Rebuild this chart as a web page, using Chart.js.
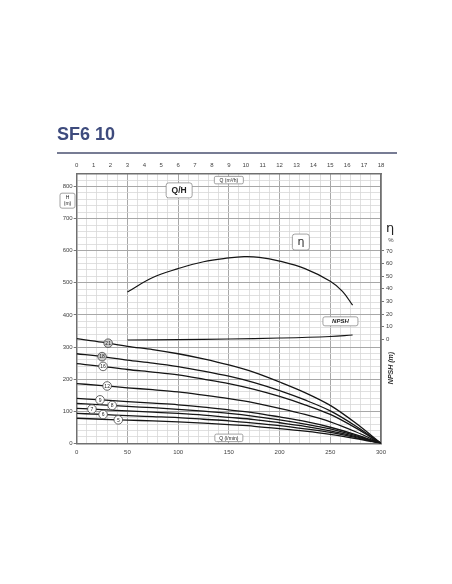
<!DOCTYPE html>
<html>
<head>
<meta charset="utf-8">
<script src="https://cdn.jsdelivr.net/npm/chart.js@4.4.1/dist/chart.umd.min.js"></script>
<style>
  html, body { margin: 0; padding: 0; background: #fff; }
  canvas { display: block; }
</style>
</head>
<body>
<canvas id="myChart" width="452" height="584"></canvas>
<script>
// flow points (l/min) for the head curves
const qHead = [0, 25, 50, 75, 100, 125, 150, 175, 200, 225, 250, 275, 300];
// head (m) per pump model
const h21 = [326, 315, 302, 292, 279, 263, 244, 221, 191, 158, 118, 63, 0];
const h18 = [279, 270, 259, 250, 239, 225, 209, 189, 164, 135, 101, 54, 0];
const h16 = [248, 240, 230, 222, 213, 200, 186, 168, 146, 120, 90, 48, 0];
const h12 = [186, 180, 173, 167, 160, 150, 139, 126, 109, 90, 67, 36, 0];
const h9 = [140, 135, 130, 125, 120, 113, 104, 95, 82, 68, 50, 27, 0];
const h8 = [124, 120, 115, 111, 106, 100, 93, 84, 73, 60, 45, 24, 0];
const h7 = [109, 105, 101, 97, 93, 88, 81, 74, 64, 53, 39, 21, 0];
const h6 = [93, 90, 86, 83, 80, 75, 70, 63, 55, 45, 34, 18, 0];
const h5 = [78, 75, 72, 70, 67, 63, 58, 53, 46, 38, 28, 15, 0];
const stageNames = ['21', '18', '16', '12', '9', '8', '7', '6', '5'];
const stageLabelQ = [31, 25, 26, 30, 23, 35, 15, 26, 41];

// efficiency curve
const qEta = [50, 75, 100, 125, 150, 165, 180, 200, 225, 250, 262, 272];
const eta = [37.5, 49, 56, 61.5, 64.5, 65.5, 65, 62, 56, 46, 38, 27];

// NPSH curve
const qNpsh = [50, 100, 150, 200, 250, 272];
const npsh = [1.7, 1.9, 2.2, 2.7, 3.5, 4.2];

const headSeries = [h21, h18, h16, h12, h9, h8, h7, h6, h5];

const tickFont = { family: 'Liberation Sans', size: 6 };
const tickColor = '#444';
const textColor = '#222';

function toPoints(xs, ys) {
    let pts = [];
    for (var i = 0; i < xs.length; i++) {
        pts.push({ x: xs[i], y: ys[i] });
    }
    return pts;
}

let datasets = [];
for (var i = 0; i < headSeries.length; i++) {
    datasets.push({
        label: stageNames[i],
        data: toPoints(qHead, headSeries[i]),
        borderColor: '#151515',
        borderWidth: 1.3,
        pointRadius: 0,
        fill: false,
        cubicInterpolationMode: 'monotone',
        xAxisID: 'x',
        yAxisID: 'y'
    });
}
datasets.push({
    label: 'η',
    data: toPoints(qEta, eta),
    borderColor: '#151515',
    borderWidth: 1.2,
    pointRadius: 0,
    fill: false,
    tension: 0.4,
    xAxisID: 'x',
    yAxisID: 'yEta'
});
datasets.push({
    label: 'NPSH',
    data: toPoints(qNpsh, npsh),
    borderColor: '#151515',
    borderWidth: 1.1,
    pointRadius: 0,
    fill: false,
    tension: 0.4,
    xAxisID: 'x',
    yAxisID: 'yNpsh'
});

// white rounded label box; leaves fillStyle ready for the text
function roundBox(ctx, cx, cy, w, h, r) {
    const x = cx - w / 2, y = cy - h / 2;
    ctx.beginPath();
    ctx.roundRect(x, y, w, h, r);
    ctx.fillStyle = '#fff';
    ctx.fill();
    ctx.lineWidth = 0.8;
    ctx.strokeStyle = '#8c8c8c';
    ctx.stroke();
    ctx.fillStyle = textColor;
}

function headAt(series, q) {
    for (var i = 0; i < qHead.length - 1; i++) {
        if (q >= qHead[i] && q <= qHead[i + 1]) {
            const t = (q - qHead[i]) / (qHead[i + 1] - qHead[i]);
            return series[i] + t * (series[i + 1] - series[i]);
        }
    }
    return series[series.length - 1];
}

const decorations = {
    id: 'decorations',
    afterDraw(chart) {
        const ctx = chart.ctx;
        const sx = chart.scales.x, sy = chart.scales.y;
        ctx.save();

        // title + rule
        ctx.fillStyle = '#3e4b7d';
        ctx.font = 'bold 18px "Liberation Sans"';
        ctx.textAlign = 'left';
        ctx.textBaseline = 'alphabetic';
        ctx.fillText('SF6 10', 57, 140);
        ctx.beginPath();
        ctx.moveTo(57, 153);
        ctx.lineTo(397, 153);
        ctx.lineWidth = 1.3;
        ctx.strokeStyle = '#4a5070';
        ctx.stroke();

        ctx.textAlign = 'center';
        ctx.textBaseline = 'middle';

        // Q/H box
        let bx = sx.getPixelForValue(101), by = sy.getPixelForValue(788);
        roundBox(ctx, bx, by, 26, 15, 2.5);
        ctx.font = 'bold 8.5px "Liberation Sans"';
        ctx.fillText('Q/H', bx, by + 0.5);

        // eta box
        bx = sx.getPixelForValue(221); by = sy.getPixelForValue(627);
        roundBox(ctx, bx, by, 17, 16, 2.5);
        ctx.font = '11px "DejaVu Sans"';
        ctx.fillText('η', bx, by);

        // NPSH box
        bx = sx.getPixelForValue(260); by = sy.getPixelForValue(380);
        roundBox(ctx, bx, by, 35, 9, 2);
        ctx.font = 'italic bold 6px "Liberation Sans"';
        ctx.fillText('NPSH', bx, by + 0.5);

        // Q (m3/h) box
        bx = sx.getPixelForValue(150); by = sy.getPixelForValue(820);
        roundBox(ctx, bx, by, 29, 7.5, 1.5);
        ctx.font = '5px "Liberation Sans"';
        ctx.fillText('Q (m³/h)', bx, by + 0.5);

        // Q (l/min) box
        bx = sx.getPixelForValue(150); by = sy.getPixelForValue(17);
        roundBox(ctx, bx, by, 28, 7.5, 1.5);
        ctx.fillText('Q (l/min)', bx, by + 0.5);

        // H (m) box, left of the axis
        by = sy.getPixelForValue(756);
        roundBox(ctx, 67.5, by, 15, 15, 2);
        ctx.fillText('H', 67.5, by - 3);
        ctx.fillText('(m)', 67.5, by + 3);

        // right side headings
        ctx.fillStyle = textColor;
        ctx.font = '13px "DejaVu Sans"';
        ctx.fillText('η', 390, 229);
        ctx.font = '6px "Liberation Sans"';
        ctx.fillStyle = '#444';
        ctx.fillText('%', 391, 240.5);

        ctx.save();
        ctx.translate(391.5, 368);
        ctx.rotate(-Math.PI / 2);
        ctx.font = 'italic bold 7px "Liberation Sans"';
        ctx.fillStyle = '#333';
        ctx.fillText('NPSH (m)', 0, 0);
        ctx.restore();

        // stage markers on the head curves
        for (var i = 0; i < headSeries.length; i++) {
            const q = stageLabelQ[i];
            const px = sx.getPixelForValue(q);
            const py = sy.getPixelForValue(headAt(headSeries[i], q));
            ctx.beginPath();
            ctx.arc(px, py, 4.3, 0, Math.PI * 2);
            ctx.fillStyle = i < 2 ? '#c9c9c9' : '#fff';
            ctx.fill();
            ctx.lineWidth = 0.8;
            ctx.strokeStyle = '#444';
            ctx.stroke();
            ctx.fillStyle = textColor;
            ctx.font = '5px "Liberation Sans"';
            ctx.fillText(stageNames[i], px, py + 0.3);
        }
        ctx.restore();
    }
};

const ctxEl = document.getElementById('myChart').getContext('2d');
const myChart = new Chart(ctxEl, {
    type: 'line',
    data: { datasets: datasets },
    options: {
        responsive: false,
        animation: false,
        layout: { padding: 0 },
        plugins: {
            legend: { display: false },
            tooltip: { enabled: false }
        },
        scales: {
            x: {
                type: 'linear',
                position: 'bottom',
                min: 0,
                max: 300,
                afterFit: function (s) { s.height = 140.7; },
                ticks: {
                    stepSize: 10,
                    autoSkip: false,
                    maxRotation: 0,
                    padding: 5,
                    font: tickFont,
                    color: tickColor,
                    callback: function (v) { return v % 50 === 0 ? String(v) : ''; }
                },
                grid: {
                    drawTicks: false,
                    color: function (c) { return c.tick && c.tick.value % 50 === 0 ? '#a8a8a8' : '#d8d8d8'; },
                    lineWidth: function (c) { return c.tick && c.tick.value % 50 === 0 ? 1 : 0.8; }
                },
                border: { color: '#707070', width: 1.5 }
            },
            x2: {
                type: 'linear',
                position: 'top',
                min: 0,
                max: 18,
                afterFit: function (s) { s.height = 173.7; },
                ticks: {
                    stepSize: 1,
                    autoSkip: false,
                    maxRotation: 0,
                    padding: 5,
                    font: tickFont,
                    color: tickColor
                },
                grid: { display: false, drawTicks: false },
                border: { color: '#707070', width: 1.5 }
            },
            y: {
                type: 'linear',
                position: 'left',
                min: 0,
                max: 840,
                afterFit: function (s) { s.width = 76.7; },
                ticks: {
                    stepSize: 20,
                    autoSkip: false,
                    padding: 1,
                    font: tickFont,
                    color: tickColor,
                    callback: function (v) { return v % 100 === 0 ? String(v) : ''; }
                },
                grid: {
                    tickLength: 3,
                    color: function (c) { return c.tick && c.tick.value % 100 === 0 ? '#a8a8a8' : '#d8d8d8'; },
                    tickColor: function (c) { return c.tick && c.tick.value % 100 === 0 ? '#777' : 'rgba(0,0,0,0)'; },
                    lineWidth: function (c) { return c.tick && c.tick.value % 100 === 0 ? 1 : 0.8; }
                },
                border: { color: '#707070', width: 1.5 }
            },
            yEta: {
                type: 'linear',
                position: 'right',
                min: -82.5,
                max: 131.3,
                afterFit: function (s) { s.width = 71; },
                ticks: {
                    stepSize: 10,
                    autoSkip: false,
                    padding: 2,
                    font: tickFont,
                    color: tickColor,
                    callback: function (v) { return (v >= 0 && v <= 70 && v % 10 === 0) ? String(v) : ''; }
                },
                grid: {
                    drawOnChartArea: false,
                    tickLength: 3,
                    tickColor: function (c) { const v = c.tick ? c.tick.value : -1; return (v >= 0 && v <= 70) ? '#777' : 'rgba(0,0,0,0)'; }
                },
                border: { color: '#707070', width: 1.5 }
            },
            yNpsh: {
                type: 'linear',
                position: 'right',
                display: false,
                min: -50,
                max: 85
            }
        }
    },
    plugins: [decorations]
});
</script>
</body>
</html>
